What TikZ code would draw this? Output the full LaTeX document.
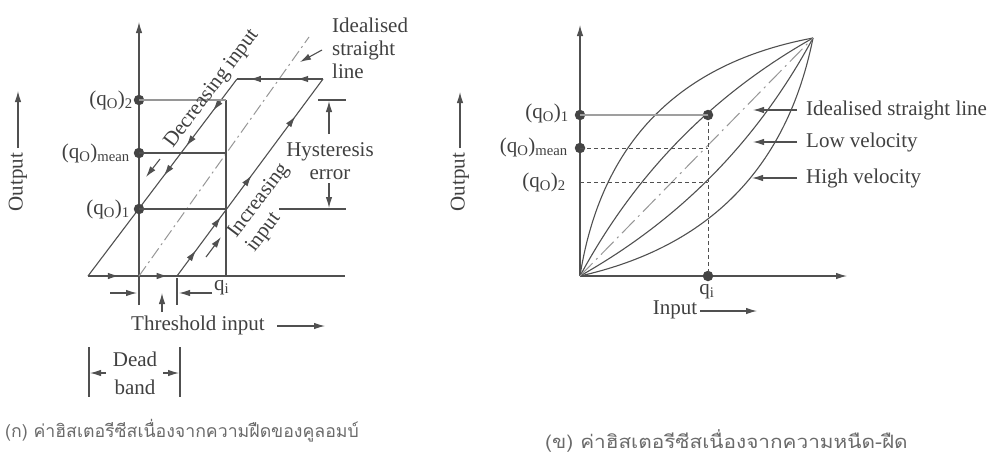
\documentclass[tikz,border=0pt]{standalone}
\usepackage{fontspec}
\setmainfont{Liberation Serif}
\newfontfamily\thaifont[Script=Thai]{Loma}
\usetikzlibrary{arrows.meta,decorations.markings}
\definecolor{ln}{HTML}{505050}
\definecolor{tx}{HTML}{404040}
\begin{document}
\begin{tikzpicture}[x=1pt,y=-1pt,
  every node/.style={text=tx, inner sep=0pt, font=\fontsize{21}{23}\selectfont},
  axis/.style={draw=ln, line width=1.1pt},
  tip/.style={-{Latex[length=11pt,width=6.5pt]}},
  am/.style={postaction={decorate,decoration={markings,mark=at position #1 with {\arrow{Latex[length=11pt,width=6.5pt]}}}}},
  dot/.style={circle, fill=ln!85!black, minimum size=10.5pt, inner sep=0pt},
  ideal/.style={draw=ln!60, line width=1pt, dash pattern=on 12pt off 4pt on 2pt off 4pt},
  dsh/.style={draw=ln, line width=0.9pt, dash pattern=on 4pt off 3pt},
  captext/.style={anchor=west, text=ln!85},
]
\useasboundingbox (0,0) rectangle (998,458);

% ---------------- left diagram ----------------
\coordinate (A) at (88,276);
\coordinate (B) at (237,79);
\coordinate (C) at (323,79);
\coordinate (D) at (177,276);
\coordinate (O1) at (139,276);
\coordinate (ytop) at (139,22);
\coordinate (ybot) at (139,305);
\coordinate (xend) at (345,276);
\draw[axis,tip] (ybot) -- (ytop);
\draw[axis, am=0.12, am=0.31] (A) -- (xend);

% ideal straight line
\coordinate (I1) at (309,37);
\draw[ideal] (O1) -- (I1);

% hysteresis loop
\draw[axis, am=0.3, am=0.85] (C) -- (B);
\draw[axis, am=0.16, am=0.34, am=0.49] (B) -- (A);
\draw[axis, am=0.13, am=0.30, am=0.51, am=0.81] (D) -- (C);

% extra direction arrows
\coordinate (e1a) at (160,159); \coordinate (e1b) at (146,177);
\draw[axis,tip] (e1a) -- (e1b);
\coordinate (e2a) at (206,257); \coordinate (e2b) at (221,237);
\draw[axis,tip] (e2a) -- (e2b);

% q_i vertical and horizontals
\coordinate (qt) at (226,100);
\coordinate (qm) at (226,153);
\coordinate (q1) at (226,209);
\coordinate (qb) at (226,276);
\draw[axis] (qt) -- (qb);
\node[dot] (d2) at (139,100) {};
\node[dot] (dm) at (139,153) {};
\node[dot] (d1) at (139,209) {};
\draw[axis, draw=ln!60, line width=1.6pt] (d2.center) -- (qt);
\draw[axis] (dm.center) -- (qm);
\draw[axis] (d1.center) -- (q1);

\node[anchor=east] (l2) at (133,100) {(q\textsubscript{O})\textsubscript{2}};
\node[anchor=east] (lm) at (130,153) {(q\textsubscript{O})\textsubscript{mean}};
\node[anchor=east] (l1) at (130,209) {(q\textsubscript{O})\textsubscript{1}};

% output label
\node[rotate=90] (outl) at (18,182) {Output};
\coordinate (outla) at (18,148); \coordinate (outlb) at (18,91);
\draw[axis,tip] (outla) -- (outlb);

% loop labels
\node[rotate=53] (dec) at (212,89) {Decreasing input};
\node[rotate=53, align=left] (inc) at (268,208) {Increasing\\input};

% idealised label
\node[anchor=west, align=left] (idl) at (332,48) {Idealised\\straight\\line};
\coordinate (idla) at (322,50); \coordinate (idlb) at (300,62);
\draw[axis,tip] (idla) -- (idlb);

% hysteresis error
\coordinate (ht1) at (318,100); \coordinate (ht2) at (346,100);
\coordinate (hb1) at (279,209); \coordinate (hb2) at (346,209);
\draw[axis] (ht1) -- (ht2);
\draw[axis] (hb1) -- (hb2);
\node[align=center] (hys) at (330,161) {Hysteresis\\error};
\coordinate (hua) at (329,134); \coordinate (hub) at (329,101);
\coordinate (hla) at (329,183); \coordinate (hlb) at (329,208);
\draw[axis,tip] (hua) -- (hub);
\draw[axis,tip] (hla) -- (hlb);

% below-axis marks
\coordinate (tk1) at (177,278); \coordinate (tk2) at (177,305);
\draw[axis] (tk1) -- (tk2);
\coordinate (la1) at (110,293); \coordinate (la2) at (137,293);
\draw[axis,tip] (la1) -- (la2);
\node[anchor=west] (qil) at (214,288) {q\textsubscript{i}};
\coordinate (ra1) at (212,293); \coordinate (ra2) at (179,293);
\draw[axis,tip] (ra1) -- (ra2);
\coordinate (th1) at (162,312); \coordinate (th2) at (162,293);
\draw[axis,tip] (th1) -- (th2);
\node (thr) at (198,325) {Threshold input};
\coordinate (tha) at (277,326); \coordinate (thb) at (325,326);
\draw[axis,tip] (tha) -- (thb);

% dead band
\coordinate (db1a) at (89,347); \coordinate (db1b) at (89,397);
\coordinate (db2a) at (180,347); \coordinate (db2b) at (180,397);
\draw[axis] (db1a) -- (db1b);
\draw[axis] (db2a) -- (db2b);
\node (dead) at (135,359) {Dead};
\node (band) at (135,387) {band};
\coordinate (dl1) at (106,373); \coordinate (dl2) at (90,373);
\coordinate (dr1) at (163,373); \coordinate (dr2) at (179,373);
\draw[axis,tip] (dl1) -- (dl2);
\draw[axis,tip] (dr1) -- (dr2);

\node[captext, font=\thaifont\fontsize{17.7}{20}\selectfont] (capa) at (5,431) {(ก) ค่าฮิสเตอรีซีสเนื่องจากความฝืดของคูลอมบ์};

% ---------------- right diagram ----------------
\coordinate (O2) at (580,276);
\coordinate (P2) at (813,38);
\coordinate (ry) at (580,25);
\coordinate (rx) at (847,276);
\draw[axis,tip] (O2) -- (ry);
\draw[axis,tip] (O2) -- (rx);

% quadratic arcs written as cubic curves
\coordinate (cou1) at (601,142); \coordinate (cou2) at (679,63);
\coordinate (ciu1) at (635,174); \coordinate (ciu2) at (712,95);
\coordinate (cil1) at (681,219); \coordinate (cil2) at (758,140);
\coordinate (col1) at (709,247); \coordinate (col2) at (787,168);
\draw[axis] (O2) .. controls (cou1) and (cou2) .. (P2);
\draw[axis] (O2) .. controls (ciu1) and (ciu2) .. (P2);
\draw[axis] (O2) .. controls (cil1) and (cil2) .. (P2);
\draw[axis] (O2) .. controls (col1) and (col2) .. (P2);
\draw[ideal, dash pattern=on 18pt off 5pt on 2pt off 5pt] (O2) -- (P2);

\node[dot] (rd1) at (580,115) {};
\node[dot] (rdm) at (580,148) {};
\node[dot] (rq) at (708,115) {};
\node[dot] (rqi) at (708,276) {};
\coordinate (rqm) at (708,148);
\coordinate (rd2) at (580,182);
\coordinate (rq2) at (708,182);
\draw[draw=ln!55, line width=2pt] (rd1.center) -- (rq.center);
\draw[dsh] (rdm.center) -- (rqm);
\draw[dsh] (rd2) -- (rq2);
\draw[dsh] (rq.center) -- (rqi.center);

\node[anchor=east] (rl1) at (569,113) {(q\textsubscript{O})\textsubscript{1}};
\node[anchor=east] (rlm) at (568,147) {(q\textsubscript{O})\textsubscript{mean}};
\node[anchor=east] (rl2) at (566,182) {(q\textsubscript{O})\textsubscript{2}};

\node (rqil) at (707,292) {q\textsubscript{i}};
\node (inp) at (675,310) {Input};
\coordinate (inpa) at (700,311); \coordinate (inpb) at (757,311);
\draw[axis,tip] (inpa) -- (inpb);

\node[rotate=90] (outr) at (460,182) {Output};
\coordinate (outra) at (460,148); \coordinate (outrb) at (460,92);
\draw[axis,tip] (outra) -- (outrb);

\node[anchor=west] (lid) at (806,110) {Idealised straight line};
\node[anchor=west] (llo) at (806,142) {Low velocity};
\node[anchor=west] (lhi) at (806,178) {High velocity};
\coordinate (a1a) at (797,110); \coordinate (a1b) at (753,110);
\coordinate (a2a) at (797,142); \coordinate (a2b) at (753,142);
\coordinate (a3a) at (797,178); \coordinate (a3b) at (752,178);
\draw[axis,tip] (a1a) -- (a1b);
\draw[axis,tip] (a2a) -- (a2b);
\draw[axis,tip] (a3a) -- (a3b);

\node[captext, font=\thaifont\fontsize{18.4}{21}\selectfont] (capb) at (545,441) {\scalebox{1.13}[1]{(ข) ค่าฮิสเตอรีซีสเนื่องจากความหนืด-ฝืด}};
\end{tikzpicture}
\end{document}
